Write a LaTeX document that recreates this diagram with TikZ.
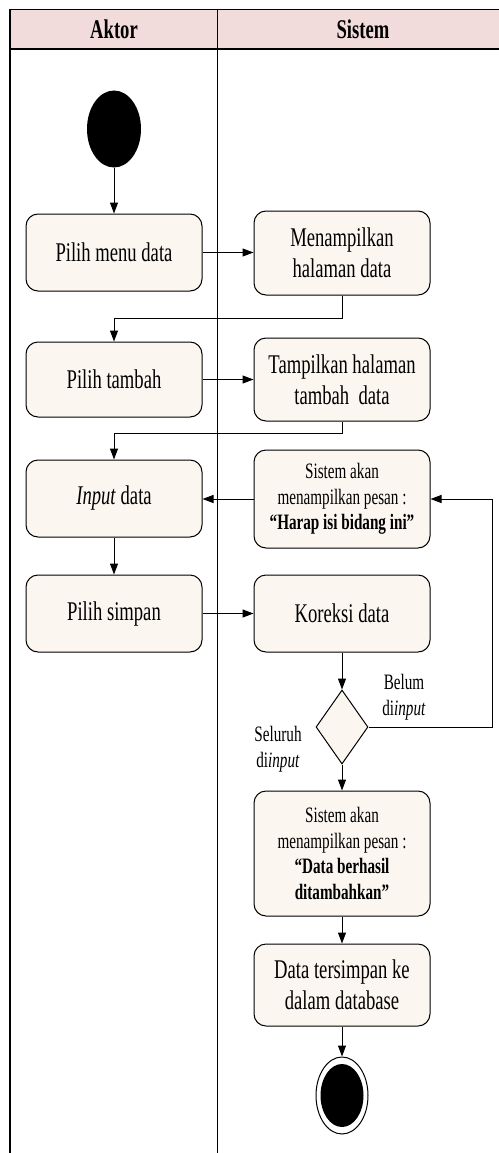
\documentclass[tikz,border=0pt]{standalone}
\usepackage{fontspec}
\setmainfont{Liberation Serif}[FakeStretch=0.69]
\usetikzlibrary{shapes.geometric,arrows.meta}
\definecolor{headpink}{HTML}{F2DCDB}
\definecolor{boxfill}{HTML}{FBF6F0}
\tikzset{
  act/.style={draw=black, line width=1pt, fill=boxfill, rounded corners=12pt,
    minimum width=176pt, align=center, inner sep=2pt,
    font=\fontsize{27}{31}\selectfont},
  actsmall/.style={act, font=\fontsize{22}{25.5}\selectfont},
  arr/.style={line width=1pt, -{Triangle[length=11pt,width=8pt]}},
  lane/.style={line width=1.1pt},
  lbl/.style={align=center, inner sep=0pt, font=\fontsize{22}{26}\selectfont},
  headtxt/.style={font=\fontsize{27}{31}\selectfont\bfseries}
}
\begin{document}
\begin{tikzpicture}[x=1pt,y=-1pt]
\useasboundingbox (0,0) rectangle (498,1153);
% header
\fill[headpink] (10,9.5) rectangle (500,49);
\draw[line width=1.4pt] (500,9.5) -- (10,9.5) -- (10,49) -- (500,49);
\draw[lane] (10,9.5) -- (10,1156);
\draw[lane] (217.7,9.5) -- (217.7,1156);
\node[headtxt] (h1) at (114,29.5) {Aktor};
\node[headtxt] (h2) at (363,29.5) {Sistem};
% nodes
\node[ellipse, fill=black, minimum width=54pt, minimum height=77pt, inner sep=0pt] (start) at (114,129) {};
\node[act, minimum height=77pt] (a1) at (114,252.5) {Pilih menu data};
\node[act, minimum height=84pt] (s1) at (342,253) {Menampilkan\\halaman data};
\node[act, minimum height=75pt] (a2) at (114,379.5) {Pilih tambah};
\node[act, minimum height=83pt] (s2) at (342,379.5) {Tampilkan halaman\\tambah~ data};
\node[act, minimum height=77pt] (a3) at (114,498.5) {\textit{Input} data};
\node[actsmall, minimum height=98pt] (s3) at (342,499) {Sistem akan\\menampilkan pesan :\\\textbf{“Harap isi bidang ini”}};
\node[act, minimum height=77pt] (a4) at (114,613.5) {Pilih simpan};
\node[act, minimum height=77pt] (s4) at (342,613.5) {Koreksi data};
\node[diamond, draw=black, line width=1pt, fill=boxfill, minimum width=52pt, minimum height=74pt, inner sep=0pt] (d) at (342,727) {};
\node[actsmall, minimum height=125pt] (s5) at (342,853.5) {Sistem akan\\menampilkan pesan :\\\textbf{“Data berhasil}\\\textbf{ditambahkan”}};
\node[act, minimum height=82pt] (s6) at (342,985) {Data tersimpan ke\\dalam database};
\node[ellipse, draw=black, line width=1pt, fill=white, minimum width=52pt, minimum height=77pt, inner sep=0pt] (end) at (342,1095.5) {};
\node[ellipse, fill=black, minimum width=43pt, minimum height=63pt, inner sep=0pt] (endin) at (342,1095.5) {};
% labels
\node[lbl] (l1) at (404,697) {Belum\\di\textit{input}};
\node[lbl] (l2) at (278,749) {Seluruh\\di\textit{input}};
% bend points
\coordinate (b1) at (114,318);
\coordinate (b2) at (114,433);
\coordinate (b3) at (492,727);
% connectors
\draw[arr] (start) -- (a1);
\draw[arr] (a1.east) -- (s1.west |- a1.east);
\draw[arr] (s1.south) |- (b1) -- (a2.north);
\draw[arr] (a2.east) -- (s2.west);
\draw[arr] (s2.south) |- (b2) -- (a3.north);
\draw[arr] (s3.west) -- (a3.east |- s3.west);
\draw[arr] (a3.south) -- (a4.north);
\draw[arr] (a4.east) -- (s4.west);
\draw[arr] (s4.south) -- (d.north);
\draw[arr] (d.east) -- (b3) |- (s3.east);
\draw[arr] (d.south) -- (s5.north);
\draw[arr] (s5.south) -- (s6.north);
\draw[arr] (s6.south) -- (end.north);
\end{tikzpicture}
\end{document}
